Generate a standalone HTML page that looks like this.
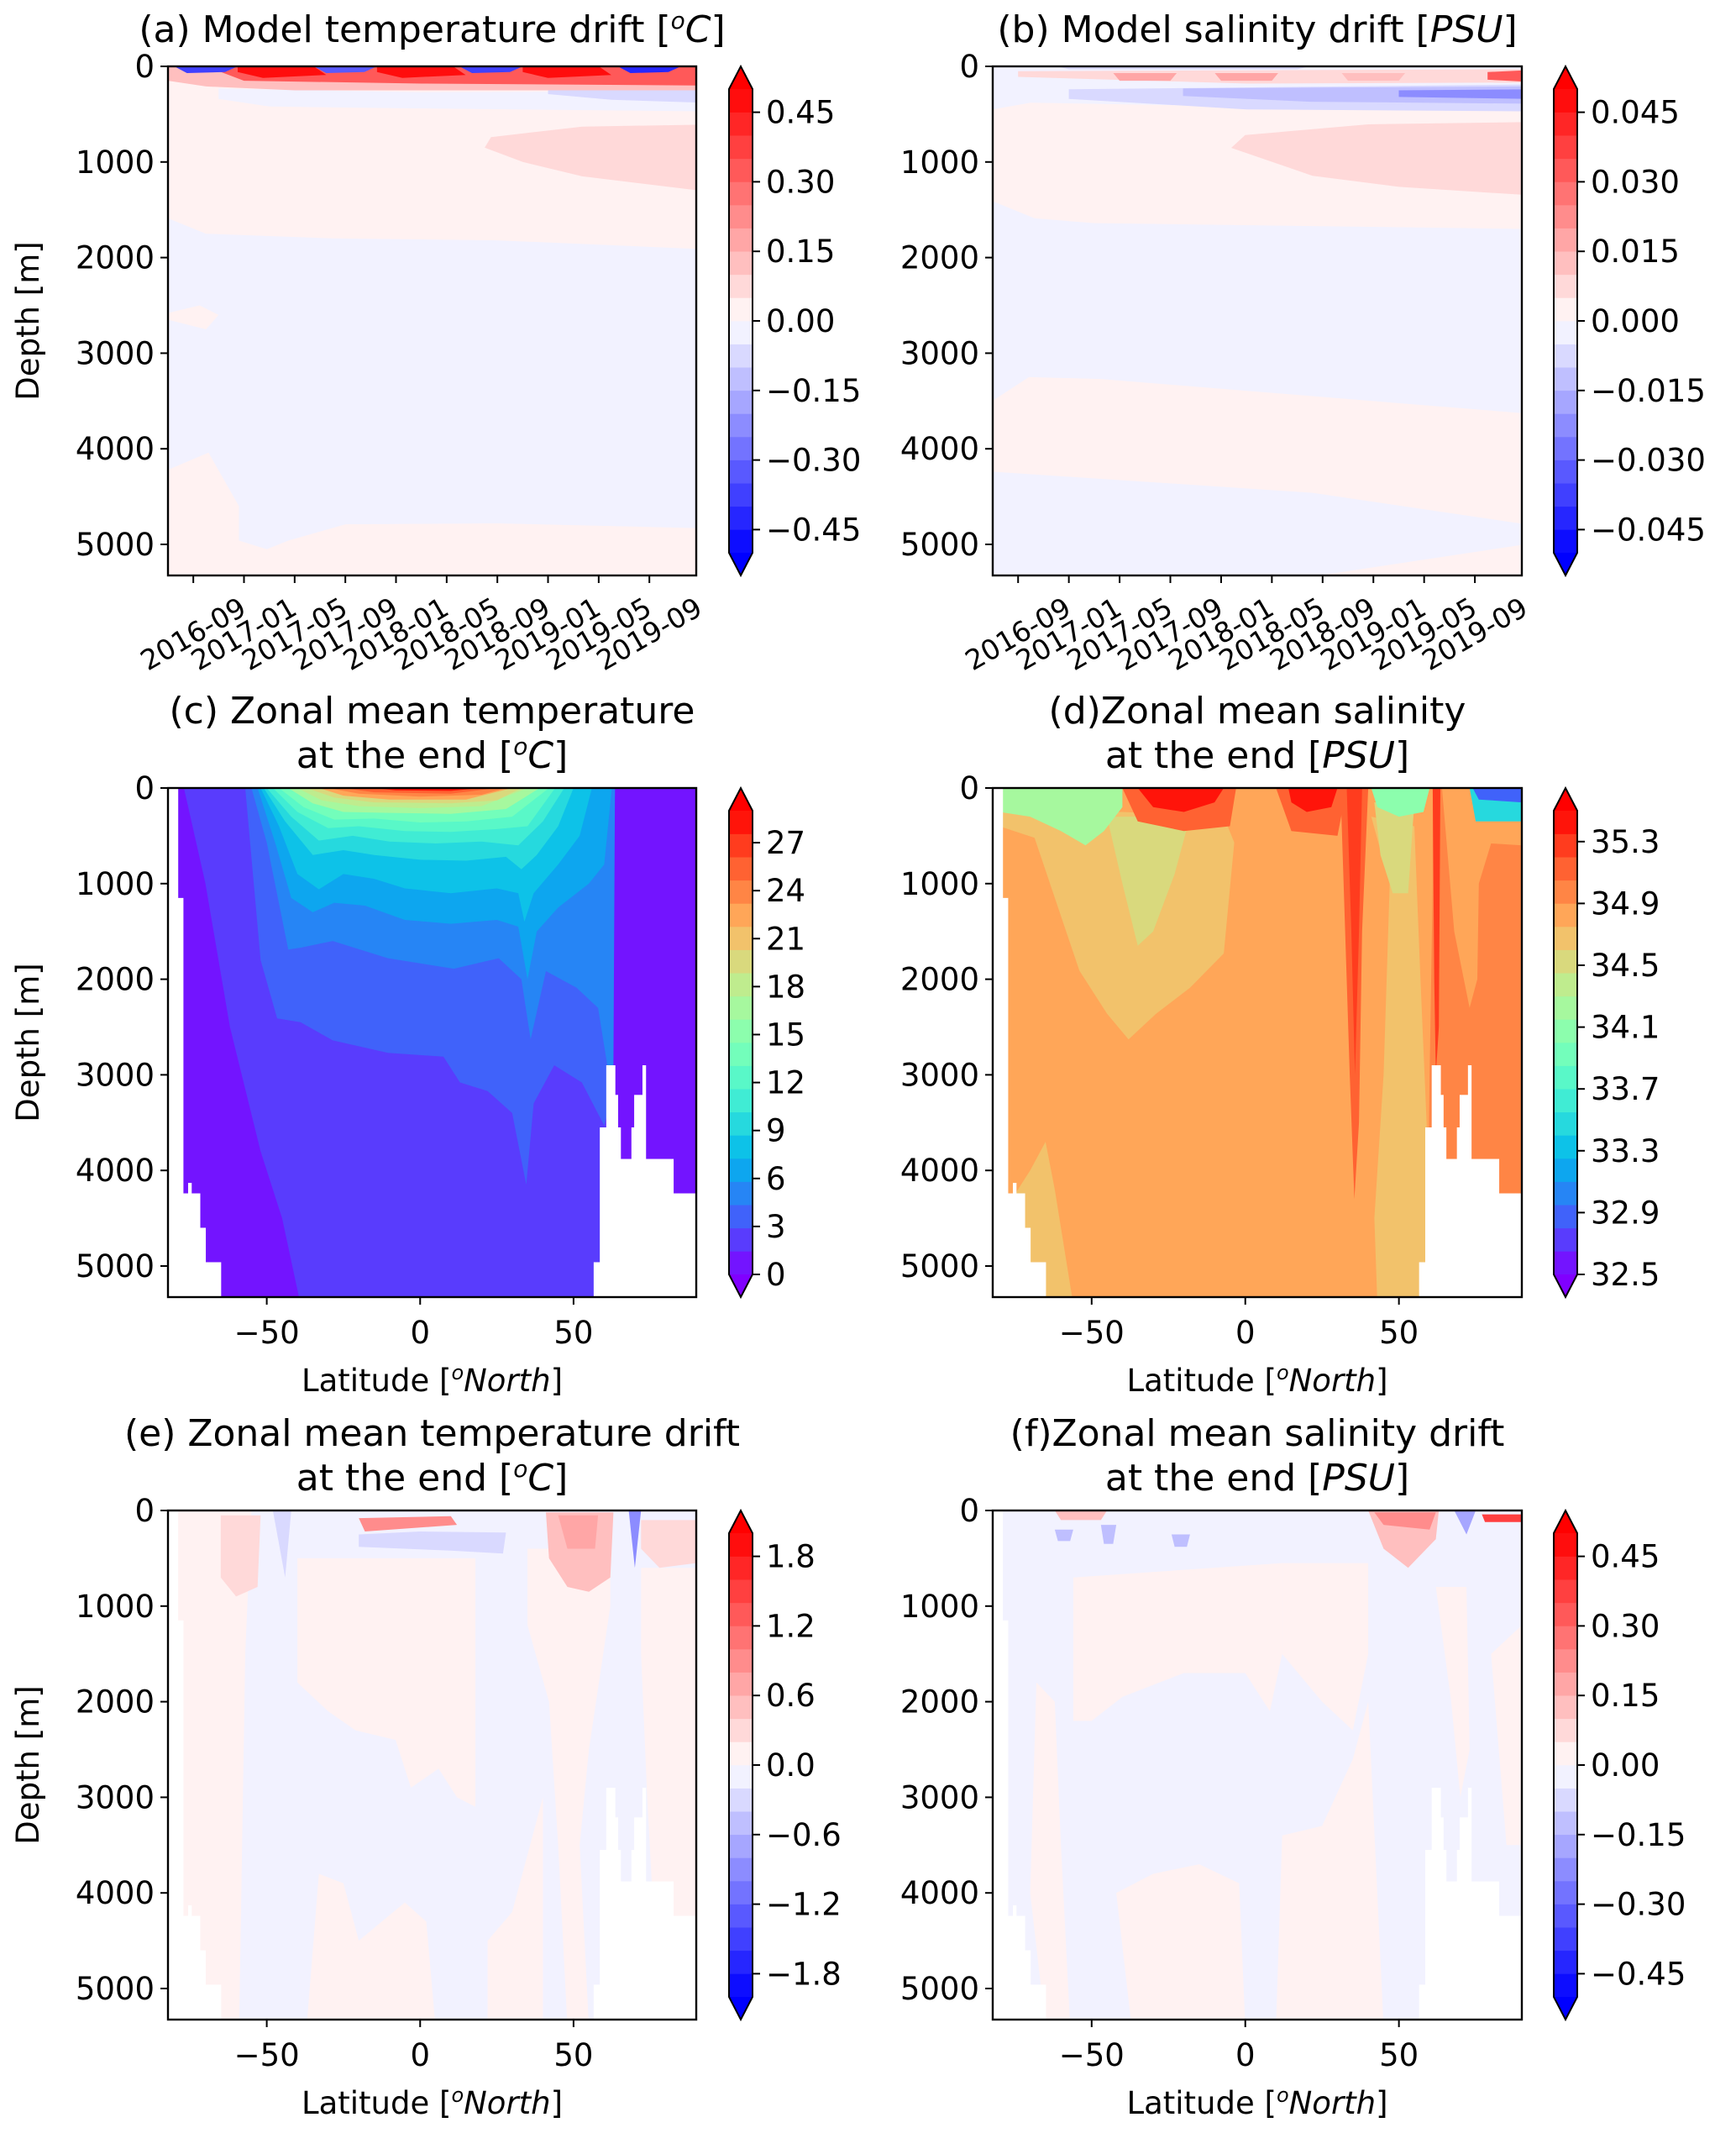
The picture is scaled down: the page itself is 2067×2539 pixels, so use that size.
<!DOCTYPE html>
<html>
<head>
<meta charset="utf-8">
<style>
html,body{margin:0;padding:0;background:#fff;}
svg{display:block;font-family:"DejaVu Sans","Liberation Sans",sans-serif;}
</style>
</head>
<body>
<svg id="chart" xmlns="http://www.w3.org/2000/svg" width="2067" height="2539" viewBox="0 0 2067 2539"></svg>
<script>
// ---------- data ----------
const dateTickMonths = [2,6,10,14,18,22,26,30,34,38];
const dateTickLabels = ["2016-09","2017-01","2017-05","2017-09","2018-01","2018-05","2018-09","2019-01","2019-05","2019-09"];
const depthTicks = [0,1000,2000,3000,4000,5000];
const latTicks = [-50,0,50];
const latTickLabels = ["\u221250","0","50"];

const aCbTicks = [-0.45,-0.30,-0.15,0,0.15,0.30,0.45];
const aCbLabels = ["\u22120.45","\u22120.30","\u22120.15","0.00","0.15","0.30","0.45"];
const bCbTicks = [-0.045,-0.030,-0.015,0,0.015,0.030,0.045];
const bCbLabels = ["\u22120.045","\u22120.030","\u22120.015","0.000","0.015","0.030","0.045"];
const cCbTicks = [0,3,6,9,12,15,18,21,24,27];
const cCbLabels = ["0","3","6","9","12","15","18","21","24","27"];
const dCbTicks = [32.5,32.9,33.3,33.7,34.1,34.5,34.9,35.3];
const dCbLabels = ["32.5","32.9","33.3","33.7","34.1","34.5","34.9","35.3"];
const eCbTicks = [-1.8,-1.2,-0.6,0,0.6,1.2,1.8];
const eCbLabels = ["\u22121.8","\u22121.2","\u22120.6","0.0","0.6","1.2","1.8"];
const fCbTicks = [-0.45,-0.30,-0.15,0,0.15,0.30,0.45];
const fCbLabels = ["\u22120.45","\u22120.30","\u22120.15","0.00","0.15","0.30","0.45"];

// panel (a): regions [value, polygon of (month, depth)]
const aBackground = 0.02;
const aRegions = [
  [-0.02, [[0,1590],[3,1750],[13,1800],[26,1820],[42,1910],[42,4830],[26,4780],[14,4790],[9.5,4960],[7.8,5050],[5.6,4960],[5.6,4600],[3.2,4040],[0,4220]]],
  [0.02, [[0,2580],[2.5,2500],[4,2600],[3,2750],[0,2650]]],
  [-0.02, [[4,230],[20,270],[42,260],[42,470],[20,440],[8,420],[4,340]]],
  [-0.07, [[30,230],[42,230],[42,380],[35,350],[30,290]]],
  [0.07, [[25,850],[25.5,740],[32.7,630],[42,610],[42,1300],[32.7,1150],[28,1000]]],
  [0.1, [[0,0],[42,0],[42,250],[10,250],[3,210],[0,150]]],
  [0.3, [[3,0],[42,0],[42,200],[20,180],[6,150]]]
];
const aBlueSpotMonths = [3,14,25.5,38];
const aBlueSpotValues = [-0.4,-0.35,-0.4,-0.45];
const aRedSpotMonths = [8.5,19.5,31];
const aRedSpotValues = [0.47,0.47,0.47];

// panel (b)
const bBackground = -0.002;
const bRegions = [
  [0.002, [[0,450],[3,380],[20,420],[42,460],[42,1700],[8,1640],[3.3,1590],[0,1410]]],
  [0.007, [[18.8,852],[19.9,719],[29.6,606],[42,583],[42,1345],[32,1260],[25.2,1144]]],
  [-0.008,[[6,240],[42,190],[42,470],[20,450],[6,340]]],
  [-0.013,[[15,230],[42,210],[42,390],[25,370],[15,310]]],
  [-0.023,[[32,250],[42,240],[42,340],[32,320]]],
  [0.006, [[2,50],[42,30],[42,170],[20,180],[2,110]]],
  [-0.008,[[5,0],[25,0],[24,30],[6,30]]],
  [0.002, [[0,3497],[2.85,3250],[8.5,3270],[42,3630],[42,4790],[25.2,4460],[0,4240]]],
  [0.002, [[22,5400],[42,5000],[42,5400]]]
];
const bRedSpotMonths = [12,20,30];
const bRedSpotValues = [0.016,0.016,0.013];
const bCornerValue = 0.032;

// panel (c) zonal mean temperature: regions [value, polygon (lat, depth)]
const cBackground = 0.5;
const cRegions = [
  [2.0, [[-77,0],[-70,1000],[-62,2500],[-52,3800],[-45,4500],[-39,5400],[59,5400],[61,3000],[63,1500],[63.5,0]]],
  [3.5, [[-57,0],[-52,1800],[-46.6,2410],[-39,2450],[-28.5,2640],[-10.5,2770],[7.6,2810],[13,3080],[22,3170],[30,3400],[34.6,4150],[37,3300],[43.7,2900],[52.7,3080],[60,3530],[62,3300],[63.5,0]]],
  [5.0, [[-55,0],[-50,570],[-43,1690],[-39,1670],[-28.5,1600],[-10.5,1780],[11,1890],[25.6,1780],[33,2000],[36,2630],[41,1915],[51,2090],[58,2300],[61,2900],[63,2900],[63.5,0]]],
  [6.5, [[-53,0],[-47,600],[-42,1150],[-35,1300],[-28,1200],[-18,1230],[-5,1380],[10,1420],[25,1380],[32,1450],[35,2000],[38,1500],[45,1250],[55,1000],[60,800],[62.5,0]]],
  [8.0, [[-52,0],[-46,400],[-40,900],[-33,1060],[-25,900],[-15,950],[-5,1050],[10,1100],[25,1050],[32,1100],[34,1400],[37,1100],[45,800],[52,500],[56,0]]],
  [9.5, [[-51,0],[-44,350],[-35,700],[-25,650],[-15,700],[0,750],[15,760],[28,720],[33,850],[38,700],[45,400],[50,0]]],
  [11, [[-50,0],[-42,300],[-33,550],[-22,500],[-10,560],[5,580],[20,560],[32,600],[40,350],[47,0]]],
  [12.5,[[-48,0],[-40,250],[-30,420],[-20,400],[-5,450],[10,460],[25,430],[35,400],[44,0]]],
  [14, [[-46,0],[-38,200],[-28,330],[-15,320],[0,360],[15,350],[30,300],[42,0]]],
  [16, [[-43,0],[-35,160],[-25,250],[-10,260],[10,270],[28,220],[39,0]]],
  [18, [[-40,0],[-32,130],[-20,190],[0,210],[20,190],[35,0]]],
  [20, [[-37,0],[-28,100],[-15,150],[10,160],[25,130],[33,0]]],
  [22, [[-33,0],[-25,80],[-10,120],[15,120],[30,0]]],
  [24, [[-30,0],[-20,60],[0,90],[20,70],[28,0]]],
  [26, [[-25,0],[-15,45],[10,60],[25,0]]],
  [28, [[-15,0],[-8,25],[10,30],[20,0]]]
];

// panel (d) zonal mean salinity
const dBackground = 34.78;
const dRegions = [
  [35.0, [[61,0],[90,0],[90,5400],[59,5400],[60,3000],[61,1000]]],
  [34.78,[[64,0],[90,0],[90,600],[80,580],[76,1000],[75.5,2000],[73,2300],[68,1500]]],
  [35.25,[[61,0],[63.5,0],[63,2500],[62,3000],[61.5,2000]]],
  [34.62,[[-80,250],[-40,250],[-7,300],[-3.6,570],[-7,1730],[-18,2090],[-29,2360],[-38,2630],[-45,2360],[-54,1910],[-68.6,520],[-80,400]]],
  [34.62,[[-78,5400],[-76,4300],[-70,4000],[-65,3700],[-62,4200],[-56,5400]]],
  [34.62,[[41,300],[47,1000],[45,3000],[42,4500],[43,5400],[59,5400],[59,3500],[57,2000],[55,400]]],
  [34.45,[[-45,300],[-40,1000],[-35,1650],[-30,1500],[-23,900],[-18,300]]],
  [34.45,[[42,150],[55,150],[53,1100],[48,1100],[44,700]]],
  [34.15,[[-80,0],[-40,0],[-40,200],[-46,450],[-52,600],[-60,450],[-70,300],[-80,250]]],
  [35.1, [[-40,0],[-3,0],[-5,400],[-20,450],[-35,350]]],
  [35.4, [[-35,0],[-7,0],[-10,150],[-20,250],[-30,200]]],
  [35.1, [[10,0],[33,0],[30,500],[15,450]]],
  [35.4, [[14,0],[30,0],[28,200],[20,250],[15,150]]],
  [35.1, [[31,0],[40,0],[38,1500],[37,3500],[35.5,4300],[34,3000],[32,1000]]],
  [35.3, [[33,0],[38,0],[37,1500],[35.7,3000],[34.5,1500]]],
  [34.0, [[41,0],[60,0],[58,250],[50,300],[43,200]]],
  [33.5, [[73,0],[90,0],[90,350],[75,350]]],
  [32.8, [[74,0],[90,0],[90,150],[76,120]]]
];

// panel (e) temperature drift
const eBackground = -0.1;
const eRegions = [
  [0.1, [[-82,0],[-55,0],[-57,1500],[-59,5400],[-82,5400]]],
  [0.1, [[-40,500],[18,500],[18,3100],[12,3000],[6,2700],[-3,2900],[-8,2400],[-21,2300],[-30,2100],[-40,1800]]],
  [0.1, [[35,400],[62,400],[62,1000],[55,2500],[52,3500],[55,5400],[48,5400],[45,3500],[42,2000],[35,1200]]],
  [0.1, [[72,600],[90,600],[90,5400],[78,5400],[74,3000],[72,1500]]],
  [0.1, [[-33,3800],[-25,3900],[-20,4500],[-5,4100],[2,4300],[5,5400],[-37,5400]]],
  [0.1, [[22,4500],[30,4200],[40,3000],[40,5400],[22,5400]]],
  [0.3, [[-65,50],[-52,50],[-53,800],[-60,900],[-65,700]]],
  [0.5, [[41,20],[63,20],[62,700],[55,850],[48,800],[42,500]]],
  [0.7, [[45,50],[58,50],[57,400],[48,400]]],
  [0.3, [[72,100],[90,100],[90,550],[78,600],[72,400]]],
  [0.9, [[-20,80],[10,60],[12,150],[-18,220]]],
  [-0.4,[[-20,250],[0,220],[28,230],[27,450],[10,420],[-20,380]]],
  [-0.4,[[-48,0],[-42,0],[-44,700]]],
  [-0.9,[[68,0],[72,0],[70,600]]]
];

// panel (f) salinity drift
const fBackground = -0.02;
const fRegions = [
  [0.02, [[-56,700],[12,550],[12,1500],[8,2100],[0,1700],[-20,1700],[-40,1950],[-50,2200],[-56,2200]]],
  [0.02, [[12,550],[40,550],[40,1500],[35,2300],[25,2000],[12,1500]]],
  [0.02, [[-68,1800],[-62,2000],[-60,3500],[-57,5400],[-65,5400],[-70,4000]]],
  [0.02, [[-42,4000],[-30,3800],[-15,3700],[-2,3900],[0,5400],[-37,5400]]],
  [0.02, [[12,3400],[25,3300],[35,2600],[40,2000],[45,5400],[10,5400]]],
  [0.02, [[62,800],[72,800],[73,2500],[70,3000],[67,2000]]],
  [0.02, [[80,1500],[90,1200],[90,3500],[85,3500]]],
  [0.12, [[40,0],[63,0],[62,300],[53,600],[45,400]]],
  [0.22, [[42,20],[62,20],[60,200],[45,150]]],
  [0.12, [[-62,0],[-45,0],[-47,100],[-60,100]]],
  [0.35, [[77,40],[90,40],[90,120],[78,120]]],
  [-0.12,[[-62,200],[-56,200],[-57,320],[-61,320]]],
  [-0.12,[[-47,150],[-42,150],[-43,350],[-46,350]]],
  [-0.12,[[-24,250],[-18,250],[-19,380],[-23,380]]],
  [-0.2, [[68,0],[75,0],[72,250]]]
];

// shared land mask (lat edges, ocean bottom depth per segment)
const maskEdges = [-82.2,-79,-77.3,-75.5,-74.6,-71.8,-70,-65,56.7,58.7,60.8,63.5,64.4,65.3,69,69.9,72.6,73.5,82.5,84.3,88,90];
const maskBottom = [0,1150,4240,4130,4240,4600,4960,99999,4960,3550,2900,3210,3550,3880,3550,3210,2900,3880,4240,4240,4240];

// ---------- rendering ----------
const NS = "http://www.w3.org/2000/svg";
const svg = document.getElementById('chart');
function mk(tag, parent){ const e=document.createElementNS(NS,tag); parent.appendChild(e); return e; }
function bwr(t){ t=Math.max(0,Math.min(1,t)); let r,g,b; if(t<0.5){r=2*t;g=2*t;b=1;} else {r=1;g=2*(1-t);b=2*(1-t);} return [r,g,b]; }
function rainbow(t){ t=Math.max(0,Math.min(1,t)); const c=v=>Math.max(0,Math.min(1,v)); return [c(Math.abs(2*t-0.5)),c(Math.sin(Math.PI*t)),c(Math.cos(Math.PI*t/2))]; }
function rgb(a){ return "rgb("+a.map(v=>Math.round(v*255)).join(",")+")"; }
function bandColor(v, lv){ const step=(lv.max-lv.min)/lv.n; const i=Math.floor((v-lv.min)/step+1e-9); const cm=lv.cmap==='bwr'?bwr:rainbow; if(i<0) return rgb(cm(0)); if(i>=lv.n) return rgb(cm(1)); return rgb(cm((i+0.5)/lv.n)); }

const DMAX = 5325;
const rows = [79, 938, 1798];
const H_AX = 606;
const cols = [{x:200,w:629,cb:868},{x:1182,w:630,cb:1850}];

const panels = [
 {id:'a', col:0,row:0, xdom:[0,41.7], lv:{min:-0.5,max:0.5,n:20,cmap:'bwr'}, bg:aBackground, regions:aRegions, cbt:aCbTicks, cbl:aCbLabels, time:true, ylabel:true,
   title:['(a) Model temperature drift [<tspan font-size="28" dy="-16" font-style="italic">o</tspan><tspan dy="16" font-style="italic">C</tspan>]']},
 {id:'b', col:1,row:0, xdom:[0,41.7], lv:{min:-0.05,max:0.05,n:20,cmap:'bwr'}, bg:bBackground, regions:bRegions, cbt:bCbTicks, cbl:bCbLabels, time:true, ylabel:false,
   title:['(b) Model salinity drift [<tspan font-style="italic">PSU</tspan>]']},
 {id:'c', col:0,row:1, xdom:[-82.2,90], lv:{min:0,max:29,n:20,cmap:'rainbow'}, bg:cBackground, regions:cRegions, cbt:cCbTicks, cbl:cCbLabels, time:false, ylabel:true,
   title:['(c) Zonal mean temperature','at the end [<tspan font-size="28" dy="-16" font-style="italic">o</tspan><tspan dy="16" font-style="italic">C</tspan>]']},
 {id:'d', col:1,row:1, xdom:[-82.2,90], lv:{min:32.5,max:35.5,n:20,cmap:'rainbow'}, bg:dBackground, regions:dRegions, cbt:dCbTicks, cbl:dCbLabels, time:false, ylabel:false,
   title:['(d)Zonal mean salinity','at the end [<tspan font-style="italic">PSU</tspan>]']},
 {id:'e', col:0,row:2, xdom:[-82.2,90], lv:{min:-2,max:2,n:20,cmap:'bwr'}, bg:eBackground, regions:eRegions, cbt:eCbTicks, cbl:eCbLabels, time:false, ylabel:true,
   title:['(e) Zonal mean temperature drift','at the end [<tspan font-size="28" dy="-16" font-style="italic">o</tspan><tspan dy="16" font-style="italic">C</tspan>]']},
 {id:'f', col:1,row:2, xdom:[-82.2,90], lv:{min:-0.5,max:0.5,n:20,cmap:'bwr'}, bg:fBackground, regions:fRegions, cbt:fCbTicks, cbl:fCbLabels, time:false, ylabel:false,
   title:['(f)Zonal mean salinity drift','at the end [<tspan font-style="italic">PSU</tspan>]']}
];

const defs = mk('defs', svg);

panels.forEach(p=>{
  const X0=cols[p.col].x, W=cols[p.col].w, Y0=rows[p.row], Hh=H_AX;
  const xs = v => X0 + (v-p.xdom[0])/(p.xdom[1]-p.xdom[0])*W;
  const ys = d => Y0 + d/DMAX*Hh;
  const ptsStr = pts => pts.map(q=>xs(q[0]).toFixed(1)+","+ys(q[1]).toFixed(1)).join(" ");

  const cp = mk('clipPath', defs); cp.setAttribute('id','clip-'+p.id);
  const cr = mk('rect', cp); cr.setAttribute('x',X0); cr.setAttribute('y',Y0); cr.setAttribute('width',W); cr.setAttribute('height',Hh);

  const g = mk('g', svg);
  
  
  const field = mk('g', g);
  field.setAttribute('clip-path','url(#clip-'+p.id+')');
  
  

  const bgr = mk('rect', field);
  bgr.setAttribute('x',X0); bgr.setAttribute('y',Y0); bgr.setAttribute('width',W); bgr.setAttribute('height',Hh);
  bgr.setAttribute('fill', bandColor(p.bg, p.lv));
  
  

  p.regions.forEach(r=>{
    const pg = mk('polygon', field);
    pg.setAttribute('points', ptsStr(r[1]));
    pg.setAttribute('fill', bandColor(r[0], p.lv));
    
    
  });

  if(p.id==='a'){
    aBlueSpotMonths.forEach((m,i)=>{
      const pg = mk('polygon', field);
      pg.setAttribute('points', ptsStr([[m-2.5,0],[m+2.5,0],[m+1.5,60],[m-1.5,70]]));
      pg.setAttribute('fill', bandColor(aBlueSpotValues[i], p.lv));
      
      
    });
    aRedSpotMonths.forEach((m,i)=>{
      const pg = mk('polygon', field);
      pg.setAttribute('points', ptsStr([[m-3,0],[m+3,0],[m+4,90],[m-1,120],[m-3,60]]));
      pg.setAttribute('fill', bandColor(aRedSpotValues[i], p.lv));
      
      
    });
  }
  if(p.id==='b'){
    bRedSpotMonths.forEach((m,i)=>{
      const pg = mk('polygon', field);
      pg.setAttribute('points', ptsStr([[m-2.5,70],[m+2.5,70],[m+2,150],[m-2,150]]));
      pg.setAttribute('fill', bandColor(bRedSpotValues[i], p.lv));
      
      
    });
    const pg = mk('polygon', field);
    pg.setAttribute('points', ptsStr([[39,60],[42,40],[42,160],[39,140]]));
    pg.setAttribute('fill', bandColor(bCornerValue, p.lv));
    
    
  }

  if(!p.time){
    for(let i=0;i<maskBottom.length;i++){
      if(maskBottom[i]>=DMAX) continue;
      const m = mk('rect', field);
      m.setAttribute('x', xs(maskEdges[i])-0.5);
      m.setAttribute('width', xs(maskEdges[i+1])-xs(maskEdges[i])+1);
      m.setAttribute('y', ys(maskBottom[i]));
      m.setAttribute('height', ys(DMAX)-ys(maskBottom[i])+2);
      m.setAttribute('fill','#fff');
      
      
    }
  }

  const fr = mk('rect', g);
  fr.setAttribute('x',X0); fr.setAttribute('y',Y0); fr.setAttribute('width',W); fr.setAttribute('height',Hh);
  fr.setAttribute('fill','none'); fr.setAttribute('stroke','#000'); fr.setAttribute('stroke-width','2.4');
  
  

  // y ticks
  depthTicks.forEach(d=>{
    const y = ys(d);
    const t = mk('line', g);
    t.setAttribute('x1',X0-9); t.setAttribute('x2',X0); t.setAttribute('y1',y); t.setAttribute('y2',y);
    t.setAttribute('stroke','#000'); t.setAttribute('stroke-width','2');
    
    
    const tx = mk('text', g);
    tx.setAttribute('x', X0-16); tx.setAttribute('y', y+13); tx.setAttribute('text-anchor','end'); tx.setAttribute('font-size','37');
    tx.textContent = String(d);
    
    
  });

  // x ticks
  if(p.time){
    dateTickMonths.forEach((m,i)=>{
      const x = xs(m);
      const t = mk('line', g);
      t.setAttribute('x1',x); t.setAttribute('x2',x); t.setAttribute('y1',Y0+Hh); t.setAttribute('y2',Y0+Hh+9);
      t.setAttribute('stroke','#000'); t.setAttribute('stroke-width','2');
      
      
      const tx = mk('text', g);
      const cy = Y0+Hh+70;
      tx.setAttribute('x', x); tx.setAttribute('y', cy+11); tx.setAttribute('text-anchor','middle'); tx.setAttribute('font-size','33');
      tx.setAttribute('transform','rotate(-30 '+x+' '+cy+')');
      tx.textContent = dateTickLabels[i];
      
      
    });
  } else {
    latTicks.forEach((v,i)=>{
      const x = xs(v);
      const t = mk('line', g);
      t.setAttribute('x1',x); t.setAttribute('x2',x); t.setAttribute('y1',Y0+Hh); t.setAttribute('y2',Y0+Hh+9);
      t.setAttribute('stroke','#000'); t.setAttribute('stroke-width','2');
      
      
      const tx = mk('text', g);
      tx.setAttribute('x', x); tx.setAttribute('y', Y0+Hh+55); tx.setAttribute('text-anchor','middle'); tx.setAttribute('font-size','37');
      tx.textContent = latTickLabels[i];
      
      
    });
    const xl = mk('text', g);
    xl.setAttribute('x', X0+W/2); xl.setAttribute('y', Y0+Hh+112); xl.setAttribute('text-anchor','middle'); xl.setAttribute('font-size','37');
    xl.innerHTML = 'Latitude [<tspan font-size="24" dy="-14" font-style="italic">o</tspan><tspan dy="14" font-style="italic">North</tspan>]';
    
    
  }

  if(p.ylabel){
    const yl = mk('text', g);
    const cy = Y0+Hh/2;
    yl.setAttribute('x', 46); yl.setAttribute('y', cy); yl.setAttribute('text-anchor','middle'); yl.setAttribute('font-size','37');
    yl.setAttribute('transform','rotate(-90 46 '+cy+')');
    yl.textContent = 'Depth [m]';
    
    
  }

  // title
  const tbase = p.title.length===1 ? Y0-29 : Y0-24;
  p.title.forEach((line,k)=>{
    const tt = mk('text', g);
    tt.setAttribute('x', X0+W/2);
    tt.setAttribute('y', tbase - (p.title.length-1-k)*53);
    tt.setAttribute('text-anchor','middle'); tt.setAttribute('font-size','44');
    tt.innerHTML = line;
    
    
  });

  // colorbar
  const cbx = cols[p.col].cb, cbw = 28, cbTop = Y0+27, cbBot = Y0+Hh-27;
  const cb = mk('g', g);
  
  
  const step = (p.lv.max-p.lv.min)/p.lv.n;
  const cys = v => cbBot - (v-p.lv.min)/(p.lv.max-p.lv.min)*(cbBot-cbTop);
  for(let i=0;i<p.lv.n;i++){
    const r = mk('rect', cb);
    const v0 = p.lv.min+i*step, v1 = v0+step;
    r.setAttribute('x',cbx); r.setAttribute('width',cbw);
    r.setAttribute('y', cys(v1)-0.3); r.setAttribute('height', cys(v0)-cys(v1)+0.6);
    r.setAttribute('fill', bandColor(v0+step/2, p.lv));
    
    
  }
  const up = mk('polygon', cb);
  up.setAttribute('points', cbx+','+cbTop+' '+(cbx+cbw/2)+','+Y0+' '+(cbx+cbw)+','+cbTop);
  up.setAttribute('fill', bandColor(p.lv.max+1, p.lv));
  
  
  const dn = mk('polygon', cb);
  dn.setAttribute('points', cbx+','+cbBot+' '+(cbx+cbw/2)+','+(Y0+Hh)+' '+(cbx+cbw)+','+cbBot);
  dn.setAttribute('fill', bandColor(p.lv.min-1, p.lv));
  
  
  const ol = mk('polygon', cb);
  ol.setAttribute('points', cbx+','+cbTop+' '+(cbx+cbw/2)+','+Y0+' '+(cbx+cbw)+','+cbTop+' '+(cbx+cbw)+','+cbBot+' '+(cbx+cbw/2)+','+(Y0+Hh)+' '+cbx+','+cbBot);
  ol.setAttribute('fill','none'); ol.setAttribute('stroke','#000'); ol.setAttribute('stroke-width','2');
  
  
  p.cbt.forEach((v,i)=>{
    const y = cys(v);
    const t = mk('line', cb);
    t.setAttribute('x1',cbx+cbw); t.setAttribute('x2',cbx+cbw+9); t.setAttribute('y1',y); t.setAttribute('y2',y);
    t.setAttribute('stroke','#000'); t.setAttribute('stroke-width','2');
    
    
    const tx = mk('text', cb);
    tx.setAttribute('x', cbx+cbw+16); tx.setAttribute('y', y+13); tx.setAttribute('font-size','37');
    tx.textContent = p.cbl[i];
    
    
  });
});
</script>
</body>
</html>
